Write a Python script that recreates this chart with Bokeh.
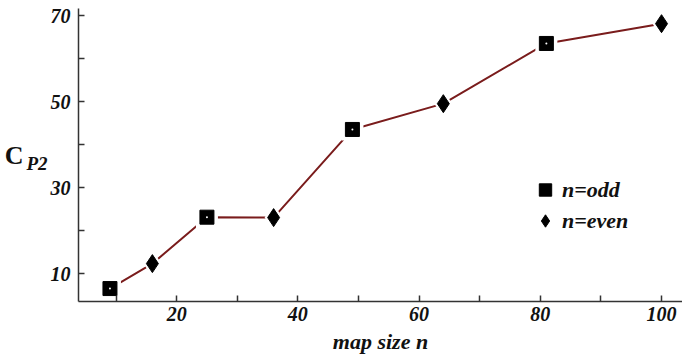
from bokeh.plotting import figure
from bokeh.models import Range1d, FixedTicker, Legend, LegendItem, LinearAxis
from bokeh.embed import file_html
from bokeh.resources import INLINE

# ---- data ----
map_size_odd = [9, 25, 49, 81]
cp2_odd = [6.5, 23.1, 43.5, 63.5]
map_size_even = [16, 36, 64, 100]
cp2_even = [12.3, 23.0, 49.5, 68.1]

x_ticks_labeled = [20, 40, 60, 80, 100]
x_ticks_minor = [10, 30, 50, 70, 90]
y_ticks_labeled = [10, 30, 50, 70]
y_ticks_minor = [20, 40, 60]

legend_labels = ["n=odd", "n=even"]
x_title = "map size n"
y_title_main = "C"
y_title_sub = "P2"

pts = sorted(zip(map_size_odd + map_size_even, cp2_odd + cp2_even))
line_x = [a for a, b in pts]
line_y = [b for a, b in pts]

SERIF = "Liberation Serif"
INK = "#111111"

p = figure(width=682, height=358, output_backend="svg", toolbar_location=None,
           x_range=Range1d(3.81, 103.46), y_range=Range1d(3.49, 71.63),
           min_border_left=78, min_border_right=0, min_border_top=8,
           min_border_bottom=57)
p.outline_line_color = None
p.grid.visible = False

p.line(line_x, line_y, line_color="#7a1c1c", line_width=2)
# white masks give the small gaps between the line and the markers
p.scatter(map_size_odd, cp2_odd, marker="square", size=22, fill_color="white", line_color=None)
p.scatter(map_size_even, cp2_even, marker="diamond", size=27, fill_color="white", line_color=None)
sq = p.scatter(map_size_odd, cp2_odd, marker="square", size=14, fill_color="black", line_color="black")
dm = p.scatter(map_size_even, cp2_even, marker="diamond", size=18, fill_color="black", line_color="black")
p.scatter(map_size_odd, cp2_odd, marker="circle", size=2, fill_color="white", line_color=None)

p.xaxis.ticker = FixedTicker(ticks=x_ticks_labeled, minor_ticks=x_ticks_minor)
p.yaxis.ticker = FixedTicker(ticks=y_ticks_labeled, minor_ticks=y_ticks_minor)
for ax in (p.xaxis[0], p.yaxis[0]):
    ax.axis_line_color = "#333333"
    ax.axis_line_width = 1.5
    ax.major_tick_in = 6
    ax.major_tick_out = 0
    ax.minor_tick_in = 6
    ax.minor_tick_out = 0
    ax.major_tick_line_color = "#333333"
    ax.minor_tick_line_color = "#333333"
    ax.major_tick_line_width = 1.5
    ax.minor_tick_line_width = 1.5
    ax.major_label_text_font = SERIF
    ax.major_label_text_font_style = "bold italic"
    ax.major_label_text_font_size = "20px"
    ax.major_label_text_color = INK
p.yaxis.major_label_standoff = 8
p.xaxis.major_label_standoff = 5

# x title
p.xaxis.axis_label = x_title
p.xaxis.axis_label_text_font = SERIF
p.xaxis.axis_label_text_font_style = "bold italic"
p.xaxis.axis_label_text_font_size = "22px"
p.xaxis.axis_label_text_color = INK
p.xaxis.axis_label_standoff = 5

# y title: subscript part on the inner axis (pushed down one short line),
# main letter on an outer label-only axis
yax = p.yaxis[0]
yax.axis_label = "\n" + y_title_sub
yax.axis_label_orientation = "horizontal"
yax.axis_label_text_font = SERIF
yax.axis_label_text_font_style = "bold italic"
yax.axis_label_text_font_size = "19px"
yax.axis_label_text_line_height = 0.8
yax.axis_label_text_color = INK
yax.axis_label_standoff = 0

outer = LinearAxis(ticker=FixedTicker(ticks=[]), axis_label=y_title_main,
                   axis_label_orientation="horizontal", axis_label_standoff=0,
                   axis_label_text_font=SERIF, axis_label_text_font_style="bold",
                   axis_label_text_font_size="26px", axis_label_text_color=INK,
                   axis_line_color=None, major_tick_line_color=None,
                   minor_tick_line_color=None, major_label_text_font_size="0px",
                   major_tick_in=0, major_tick_out=0, minor_tick_in=0, minor_tick_out=0,
                   major_label_standoff=0)
p.add_layout(outer, "left")

legend = Legend(items=[LegendItem(label=legend_labels[0], renderers=[sq]),
                       LegendItem(label=legend_labels[1], renderers=[dm])],
                location=(450, 65), padding=0, margin=0, spacing=0,
                glyph_width=34, glyph_height=31, label_standoff=0,
                label_text_font=SERIF, label_text_font_style="bold italic",
                label_text_font_size="22px", label_text_color=INK,
                background_fill_alpha=0, border_line_color=None)
p.add_layout(legend)

open("out.html", "w").write(file_html(p, INLINE))
